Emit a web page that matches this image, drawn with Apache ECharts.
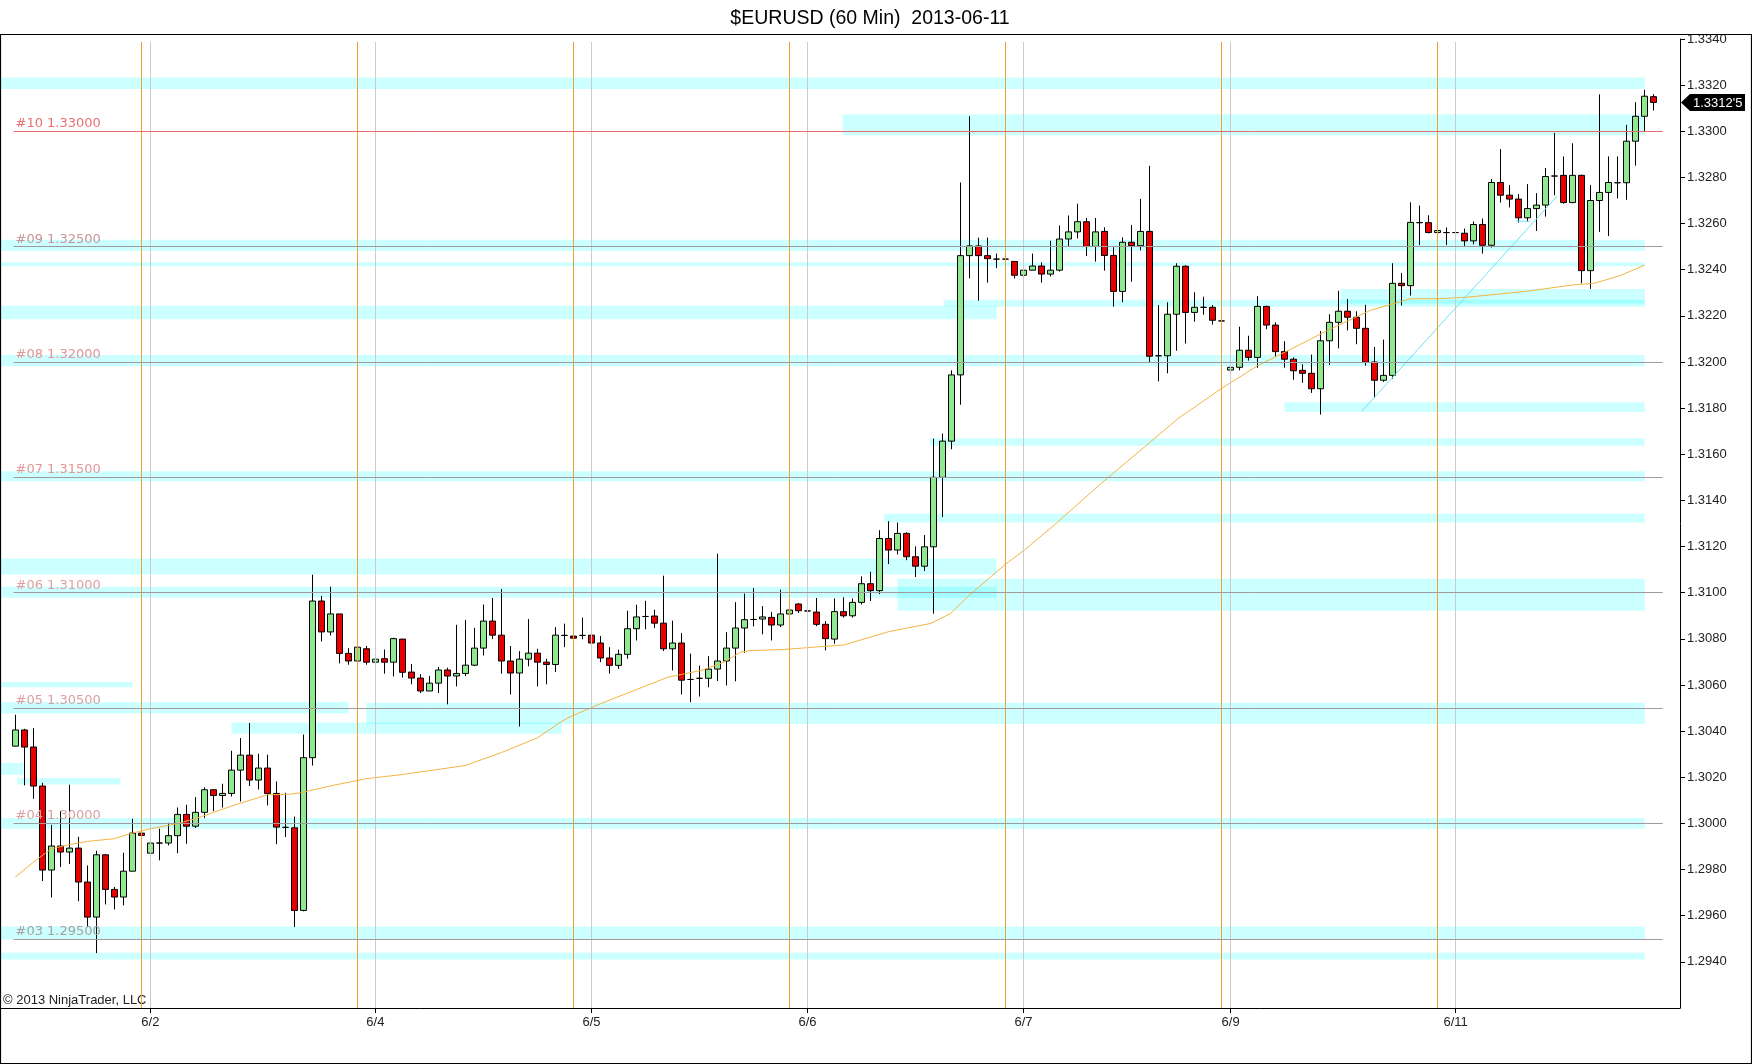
<!DOCTYPE html>
<html>
<head>
<meta charset="utf-8">
<title>$EURUSD (60 Min) 2013-06-11</title>
<script src="https://cdn.jsdelivr.net/npm/echarts@6/dist/echarts.min.js"></script>
<style>
html,body{margin:0;padding:0;background:#fff;}
#main{width:1752px;height:1064px;}
</style>
</head>
<body>
<div id="main"></div>
<script>
/****
 $EURUSD 60 min bars, 2013-05-31 .. 2013-06-11
****/

// hourly bars, index 0..182
var opens = [
1.30335,1.30405,1.30331,1.30162,1.29798,1.29902,1.29876,1.29893,1.29746,1.29594,
1.29864,1.29714,1.29681,1.29793,1.29958,1.29871,1.29915,1.29915,1.29947,1.30039,
1.29988,1.30048,1.30146,1.30121,1.30130,1.30231,1.30296,1.30188,1.30240,1.30130,
1.29983,1.29981,1.29623,1.30285,1.30964,1.30830,1.30908,1.30737,1.30704,1.30757,
1.30699,1.30714,1.30699,1.30799,1.30656,1.30630,1.30574,1.30608,1.30665,1.30639,
1.30650,1.30686,1.30760,1.30877,1.30816,1.30704,1.30652,1.30712,1.30738,1.30699,
1.30689,1.30815,1.30812,1.30815,1.30816,1.30782,1.30717,1.30685,1.30733,1.30844,
1.30897,1.30899,1.30868,1.30757,1.30782,1.30624,1.30629,1.30629,1.30669,1.30704,
1.30760,1.30847,1.30884,1.30886,1.30893,1.30860,1.30908,1.30951,1.30921,1.30916,
1.30863,1.30799,1.30918,1.30900,1.30958,1.31039,1.31009,1.31235,1.31185,1.31257,
1.31156,1.31115,1.31199,1.31500,1.31657,1.31944,1.32461,1.32503,1.32461,1.32446,
1.32446,1.32436,1.32376,1.32398,1.32416,1.32381,1.32398,1.32533,1.32564,1.32608,
1.32501,1.32566,1.32462,1.32306,1.32519,1.32504,1.32566,1.32027,1.32027,1.32207,
1.32415,1.32215,1.32237,1.32237,1.32178,1.31965,1.31977,1.32051,1.32020,1.32241,
1.32160,1.32045,1.32012,1.31964,1.31951,1.31884,1.32092,1.32172,1.32220,1.32194,
1.32146,1.32000,1.31921,1.31942,1.32341,1.32331,1.32604,1.32604,1.32561,1.32561,
1.32561,1.32558,1.32525,1.32596,1.32506,1.32778,1.32723,1.32706,1.32625,1.32665,
1.32680,1.32806,1.32809,1.32691,1.32809,1.32396,1.32700,1.32735,1.32777,1.32777,
1.32957,1.33065,1.33150];
var closes = [
1.30405,1.30331,1.30162,1.29798,1.29902,1.29876,1.29893,1.29746,1.29594,1.29864,
1.29714,1.29681,1.29793,1.29958,1.29948,1.29915,1.29915,1.29947,1.30039,1.29988,
1.30048,1.30146,1.30121,1.30130,1.30231,1.30296,1.30188,1.30240,1.30130,1.29984,
1.29983,1.29623,1.30285,1.30964,1.30830,1.30908,1.30737,1.30704,1.30764,1.30699,
1.30712,1.30699,1.30801,1.30655,1.30630,1.30574,1.30608,1.30665,1.30639,1.30650,
1.30686,1.30760,1.30877,1.30816,1.30704,1.30652,1.30712,1.30738,1.30699,1.30689,
1.30816,1.30815,1.30803,1.30815,1.30782,1.30717,1.30685,1.30733,1.30844,1.30895,
1.30897,1.30868,1.30757,1.30782,1.30621,1.30624,1.30629,1.30669,1.30704,1.30760,
1.30847,1.30883,1.30884,1.30895,1.30860,1.30908,1.30925,1.30922,1.30921,1.30863,
1.30801,1.30918,1.30900,1.30958,1.31039,1.31009,1.31235,1.31185,1.31257,1.31156,
1.31115,1.31199,1.31500,1.31657,1.31944,1.32461,1.32503,1.32461,1.32448,1.32446,
1.32446,1.32376,1.32398,1.32416,1.32381,1.32398,1.32533,1.32564,1.32608,1.32501,
1.32564,1.32462,1.32306,1.32519,1.32504,1.32566,1.32025,1.32027,1.32207,1.32415,
1.32215,1.32237,1.32237,1.32181,1.32178,1.31977,1.32051,1.32020,1.32241,1.32160,
1.32045,1.32012,1.31962,1.31951,1.31884,1.32092,1.32172,1.32220,1.32194,1.32146,
1.31999,1.31921,1.31942,1.32341,1.32331,1.32605,1.32604,1.32561,1.32570,1.32561,
1.32561,1.32525,1.32596,1.32506,1.32778,1.32723,1.32706,1.32625,1.32665,1.32680,
1.32804,1.32806,1.32691,1.32809,1.32396,1.32700,1.32735,1.32778,1.32777,1.32957,
1.33065,1.33152,1.33125];
var lows = [
1.30335,1.30165,1.30107,1.29750,1.29679,1.29811,1.29824,1.29663,1.29551,1.29438,
1.29649,1.29627,1.29645,1.29793,1.29919,1.29853,1.29840,1.29905,1.29871,1.29912,
1.29980,1.30023,1.30053,1.30069,1.30117,1.30095,1.30162,1.30147,1.30078,1.29910,
1.29941,1.29551,1.29619,1.30251,1.30789,1.30815,1.30694,1.30688,1.30671,1.30688,
1.30659,1.30649,1.30637,1.30632,1.30603,1.30565,1.30574,1.30565,1.30516,1.30594,
1.30638,1.30682,1.30728,1.30799,1.30649,1.30559,1.30420,1.30681,1.30594,1.30603,
1.30656,1.30764,1.30779,1.30798,1.30762,1.30699,1.30649,1.30670,1.30714,1.30793,
1.30841,1.30847,1.30747,1.30663,1.30559,1.30526,1.30550,1.30590,1.30617,1.30598,
1.30616,1.30740,1.30854,1.30820,1.30793,1.30851,1.30866,1.30912,1.30863,1.30855,
1.30750,1.30779,1.30892,1.30892,1.30949,1.30964,1.30994,1.31124,1.31166,1.31141,
1.31068,1.31094,1.30909,1.31328,1.31622,1.31815,1.32363,1.32266,1.32344,1.32407,
1.32385,1.32362,1.32362,1.32398,1.32344,1.32371,1.32392,1.32500,1.32536,1.32459,
1.32435,1.32396,1.32240,1.32259,1.32348,1.32484,1.31999,1.31916,1.31951,1.32049,
1.32080,1.32175,1.32205,1.32162,1.32110,1.31850,1.31964,1.32006,1.31975,1.32142,
1.32023,1.31975,1.31923,1.31910,1.31866,1.31772,1.31987,1.32059,1.32137,1.32077,
1.31984,1.31844,1.31914,1.31928,1.32245,1.32288,1.32507,1.32558,1.32536,1.32507,
1.32546,1.32500,1.32510,1.32470,1.32496,1.32691,1.32670,1.32604,1.32609,1.32568,
1.32630,1.32723,1.32686,1.32688,1.32341,1.32317,1.32564,1.32546,1.32709,1.32703,
1.32851,1.33001,1.33090];
var highs = [
1.30471,1.30410,1.30413,1.30176,1.29994,1.30053,1.30168,1.29942,1.29818,1.29882,
1.29866,1.29725,1.29873,1.30020,1.30006,1.29948,1.29977,1.30003,1.30069,1.30081,
1.30114,1.30156,1.30146,1.30172,1.30315,1.30370,1.30435,1.30302,1.30298,1.30182,
1.30133,1.30030,1.30385,1.31078,1.30986,1.31026,1.30908,1.30760,1.30796,1.30769,
1.30738,1.30754,1.30805,1.30799,1.30691,1.30647,1.30639,1.30678,1.30675,1.30861,
1.30882,1.30848,1.30949,1.30977,1.31016,1.30769,1.30747,1.30886,1.30757,1.30714,
1.30851,1.30866,1.30892,1.30892,1.30816,1.30812,1.30764,1.30753,1.30922,1.30948,
1.30965,1.30926,1.31074,1.30879,1.30825,1.30736,1.30684,1.30725,1.31169,1.30829,
1.30959,1.30996,1.31020,1.30942,1.30916,1.31013,1.30960,1.30955,1.30977,1.30977,
1.30877,1.30975,1.30980,1.30975,1.31071,1.31091,1.31271,1.31310,1.31304,1.31262,
1.31201,1.31250,1.31668,1.31690,1.31964,1.32778,1.33065,1.32539,1.32539,1.32470,
1.32470,1.32436,1.32451,1.32470,1.32432,1.32526,1.32592,1.32635,1.32686,1.32624,
1.32624,1.32584,1.32497,1.32540,1.32594,1.32707,1.32850,1.32247,1.32259,1.32428,
1.32419,1.32302,1.32283,1.32247,1.32308,1.31996,1.32153,1.32114,1.32285,1.32244,
1.32172,1.32090,1.32020,1.31990,1.32032,1.32134,1.32207,1.32309,1.32273,1.32220,
1.32248,1.32065,1.32097,1.32428,1.32386,1.32692,1.32678,1.32636,1.32601,1.32583,
1.32583,1.32578,1.32609,1.32622,1.32793,1.32923,1.32767,1.32728,1.32771,1.32732,
1.32841,1.32993,1.32891,1.32948,1.32812,1.32767,1.33160,1.32891,1.32891,1.33028,
1.33126,1.33180,1.33161];

// moving average (bar index, price)
var maIdx  = [0,2,4,6,8,11,13,15,18,20.5,24,28,30.6,31.7,35.3,39,42.8,50,54,58,60.6,61.4,65,68.8,72.5,76.2,78.7,80.6,81.7,85.4,89.4,92,97,101.7,103.9,106,110,112,115.4,120.6,129.2,133.9,138,141.7,146.1,150.6,155,158,161.3,168,173.2,175.4,178.3,181];
var maVals = [1.29767,1.29832,1.29890,1.29908,1.29922,1.29934,1.29958,1.29977,1.29999,1.30027,1.30075,1.30124,1.30127,1.30133,1.30165,1.30194,1.30211,1.30251,1.30307,1.30371,1.30440,1.30458,1.30519,1.30577,1.30634,1.30663,1.30699,1.30743,1.30749,1.30754,1.30766,1.30773,1.30831,1.30867,1.30910,1.30990,1.31124,1.31182,1.31293,1.31473,1.31756,1.31883,1.31984,1.32056,1.32143,1.32225,1.32274,1.32274,1.32281,1.32307,1.32335,1.32341,1.32375,1.32420];

// day boundaries, session starts
var dayIdx = [15,40,64,88,112,135,160];
var dayLabels = ['6/2','6/4','6/5','6/6','6/7','6/9','6/11'];
var sessionIdx = [14,38,62,86,110,134,158];

// price levels
var levelNames = ['#03','#04','#05','#06','#07','#08','#09','#10'];
var levelVals = [1.295,1.300,1.305,1.310,1.315,1.320,1.325,1.330];

// zones: [from bar, to bar, low, high]
var zones = [
  [-1.7,181,1.33183,1.33233],
  [91.9,181,1.32983,1.33074],
  [-1.7,181,1.32481,1.32530],
  [-1.7,181,1.32415,1.32432],
  [-1.7,109,1.32185,1.32244],
  [103.1,181,1.32240,1.32270],
  [147.2,181,1.32253,1.32316],
  [-1.7,181,1.31982,1.32030],
  [141,181,1.31783,1.31826],
  [101.6,181,1.31637,1.31670],
  [-1.7,181,1.31483,1.31526],
  [96.5,181,1.31304,1.31342],
  [-1.7,109,1.31079,1.31148],
  [-1.7,109,1.30978,1.31026],
  [98,181,1.30922,1.31061],
  [-1.7,13,1.30590,1.30613],
  [-1.7,37,1.30476,1.30526],
  [39,181,1.30431,1.30523],
  [24,60.7,1.30389,1.30437],
  [-1.7,0.9,1.30211,1.30262],
  [0.2,11.7,1.30169,1.30197],
  [-1.7,181,1.29977,1.30023],
  [-1.7,181,1.29497,1.29553],
  [-1.7,181,1.29410,1.29440]
];

// trend line and swing-low marker
var trendIdx = [149.6,171.3];
var trendVals = [1.31788,1.32720];
var swingIdx = [166.7,168.3];
var swingVals = [1.3261,1.3261];

var yTicks = [1.294,1.296,1.298,1.300,1.302,1.304,1.306,1.308,1.310,1.312,1.314,1.316,1.318,1.320,1.322,1.324,1.326,1.328,1.330,1.332,1.334];

var candles = [];
for (var i = 0; i < opens.length; i++) {
  candles.push([i, opens[i], closes[i], lows[i], highs[i]]);
}
var ma = maIdx.map(function (x, k) { return [x, maVals[k]]; });
var trend = trendIdx.map(function (x, k) { return [x, trendVals[k]]; });
var swing = swingIdx.map(function (x, k) { return [x, swingVals[k]]; });

var vLines = [];
sessionIdx.forEach(function (x) {
  vLines.push([{coord: [x, 1.33387], lineStyle: {color: '#f0a030', width: 1, type: 'solid'}}, {coord: [x, 1.292]}]);
});
dayIdx.forEach(function (x) {
  vLines.push([{coord: [x, 1.33387], lineStyle: {color: '#cccccc', width: 1, type: 'solid'}}, {coord: [x, 1.292]}]);
});

var levelLabelColor = ['#a9a0a0','#d9a0a0','#dca0a0','#e0a0a0','#e39898','#e39494','#c8949a','#e87070'];
var levelLines = levelVals.map(function (v, k) {
  var top = k === levelVals.length - 1;
  return [{
    coord: [-0.2, v],
    lineStyle: {color: top ? '#e86a6a' : '#a09a9c', width: 1, type: 'solid'},
    label: {
      show: true,
      position: 'insideStartTop',
      distance: [2, 1],
      formatter: levelNames[k] + ' ' + v.toFixed(5),
      color: levelLabelColor[k],
      fontFamily: 'DejaVu Sans',
      fontSize: 13
    }
  }, {coord: [183, v]}];
});

var zoneAreas = zones.map(function (z) {
  return [{xAxis: z[0], yAxis: z[3]}, {xAxis: z[1], yAxis: z[2]}];
});

var myChart = echarts.init(document.getElementById('main'));

var option = {
  animation: false,
  backgroundColor: '#fff',
  grid: {left: 0, right: 72, top: 39, bottom: 56, containLabel: false},
  xAxis: {
    type: 'value',
    min: -1.7,
    max: 184.92,
    axisLine: {show: true, onZero: false, lineStyle: {color: '#000', width: 1}},
    axisTick: {show: true, length: 5, customValues: dayIdx, lineStyle: {color: '#000'}},
    axisLabel: {
      customValues: dayIdx,
      formatter: function (v) {
        var k = dayIdx.indexOf(Math.round(v));
        return k >= 0 ? dayLabels[k] : '';
      },
      fontFamily: 'Liberation Sans',
      fontSize: 13,
      color: '#222',
      margin: 8
    },
    splitLine: {show: false}
  },
  yAxis: {
    type: 'value',
    position: 'right',
    min: 1.292,
    max: 1.334,
    axisLine: {show: true, onZero: false, lineStyle: {color: '#000', width: 1}},
    axisTick: {show: true, length: 5, customValues: yTicks, lineStyle: {color: '#000'}},
    axisLabel: {
      customValues: yTicks,
      formatter: function (v) { return v.toFixed(4); },
      fontFamily: 'Liberation Sans',
      fontSize: 13,
      color: '#222',
      margin: 7
    },
    splitLine: {show: false}
  },
  series: [
    {
      name: 'sessions',
      type: 'line',
      data: [],
      z: 1,
      silent: true,
      markLine: {silent: true, symbol: ['none', 'none'], label: {show: false}, data: vLines}
    },
    {
      name: 'EURUSD',
      type: 'candlestick',
      z: 2,
      barWidth: 6,
      itemStyle: {
        color: '#90e890',
        color0: '#e80000',
        borderColor: '#000',
        borderColor0: '#000',
        borderWidth: 1
      },
      data: candles
    },
    {
      name: 'zones',
      type: 'line',
      data: [],
      z: 3,
      silent: true,
      markArea: {silent: true, itemStyle: {color: 'rgba(0,255,255,0.2)'}, data: zoneAreas}
    },
    {
      name: 'levels',
      type: 'line',
      data: [],
      z: 4,
      silent: true,
      markLine: {silent: true, symbol: ['none', 'none'], data: levelLines}
    },
    {
      name: 'MA',
      type: 'line',
      z: 4,
      showSymbol: false,
      lineStyle: {color: '#f3b444', width: 1},
      data: ma
    },
    {
      name: 'trend',
      type: 'line',
      z: 4,
      showSymbol: false,
      lineStyle: {color: '#6ce4f2', width: 1},
      data: trend
    },
    {
      name: 'swing',
      type: 'line',
      z: 4,
      showSymbol: false,
      lineStyle: {color: '#6ce4f2', width: 1},
      data: swing
    }
  ]
};

myChart.setOption(option);

// last price tag on the axis
var last = closes[closes.length - 1];
var ls = last.toFixed(5);
var tagText = ls.slice(0, 6) + "'" + ls.slice(6);
var py = myChart.convertToPixel({yAxisIndex: 0}, last);

myChart.setOption({
  graphic: [
    {
      type: 'text', x: 870, y: 19, silent: true,
      style: {text: '$EURUSD (60 Min)  2013-06-11', fill: '#000', font: '19.5px "Liberation Sans"', align: 'center', verticalAlign: 'middle'}
    },
    {
      type: 'text', x: 3, y: 1000, silent: true,
      style: {text: '\u00a9 2013 NinjaTrader, LLC', fill: '#222', font: '13px "Liberation Sans"', align: 'left', verticalAlign: 'middle'}
    },
    {
      type: 'rect', silent: true, z: 100,
      shape: {x: 0.5, y: 34.5, width: 1751, height: 1029},
      style: {fill: 'none', stroke: '#000', lineWidth: 1.2}
    },
    {
      type: 'group', x: 1681, y: py, z: 100, silent: true,
      children: [
        {type: 'polygon', shape: {points: [[0, 0], [9, -8.5], [64, -8.5], [64, 8.5], [9, 8.5]]}, style: {fill: '#000'}},
        {type: 'text', x: 12, y: 0.5, style: {text: tagText, fill: '#fff', font: '13px "Liberation Sans"', align: 'left', verticalAlign: 'middle'}}
      ]
    }
  ]
});
</script>
</body>
</html>
